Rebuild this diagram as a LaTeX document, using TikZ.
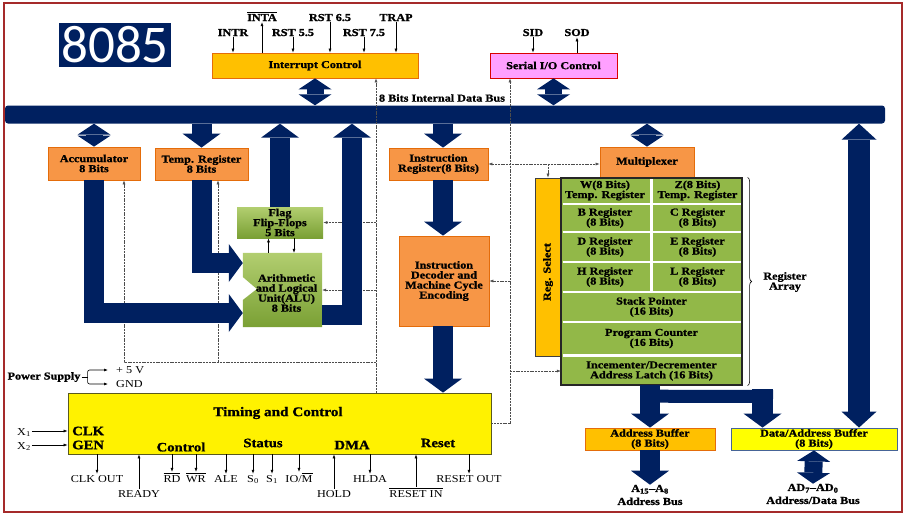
\documentclass[tikz,border=0pt]{standalone}
\usepackage{fontspec}
\setmainfont{Liberation Serif}[FakeStretch=1.15, BoldFeatures={FakeBold=1.2}]
\newfontfamily\chipfont{Carlito}
\usetikzlibrary{arrows.meta, decorations.pathreplacing}

\definecolor{navy}{RGB}{0,32,96}
\definecolor{redframe}{RGB}{165,42,42}
\definecolor{orangefill}{RGB}{247,150,70}
\definecolor{orangeline}{RGB}{228,108,10}
\definecolor{amber}{RGB}{255,192,0}
\definecolor{pinkfill}{RGB}{255,160,255}
\definecolor{tcyellow}{RGB}{255,242,0}
\definecolor{tcline}{RGB}{90,90,30}
\definecolor{bufyellow}{RGB}{255,255,0}
\definecolor{bufline}{RGB}{70,100,150}
\definecolor{cellgreen}{RGB}{146,184,72}
\definecolor{greentop}{RGB}{178,206,112}
\definecolor{greenbot}{RGB}{122,160,52}

\newcommand{\sigbar}[1]{\ensuremath{\overline{\mbox{#1}}}}

\begin{document}
\begin{tikzpicture}[x=1pt, y=-1pt,
	font=\bfseries\fontsize{10.6}{10}\selectfont,
	box/.style={align=center, inner sep=0pt, line width=0.8pt},
	obox/.style={box, draw=orangeline, fill=orangefill},
	abox/.style={box, draw=orangeline, fill=amber},
	cell/.style={align=center, inner sep=0pt},
	pin/.style={inner sep=1pt, anchor=base},
	lopin/.style={pin, font=\mdseries\fontsize{10.6}{11}\selectfont},
	tclbl/.style={inner sep=0pt, font=\bfseries\fontsize{12.8}{13}\selectfont},
	sig/.style={line width=0.6pt, -{Latex[length=4pt,width=3pt]}},
	ctl/.style={draw=black!70, line width=0.5pt, dash pattern=on 2pt off 0.8pt},
	ctlarr/.style={ctl, -{Latex[length=4pt,width=3pt]}},
	busarrow/.style={draw=navy, line width=20pt, line join=miter, -{Triangle[width=38pt,length=14pt,line width=0pt]}},
	busdbl/.style={draw=navy, line width=17pt, {Triangle[width=33pt,length=11pt,line width=0pt]}-{Triangle[width=33pt,length=11pt,line width=0pt]}}]

		\useasboundingbox (0,0) rectangle (906,517);
		\draw[redframe, line width=2pt] (4,3) rectangle (902,512);

		% Chip name
		\node[fill=navy, text=white, inner sep=0pt, minimum width=112pt, minimum height=44pt,
			font=\chipfont\fontsize{53}{53}\selectfont] (chip) at (115,45) {8085};

		% Interrupt and serial blocks with their pins
		\node[abox, minimum width=206pt, minimum height=25pt] (intc) at (315,65.5) {Interrupt Control};
		\node[box, draw=red!85!black, fill=pinkfill, minimum width=127pt, minimum height=25pt] (sio) at (553.5,65.5) {Serial I/O Control};

		\node[pin] (intr) at (233,36) {INTR};
		\node[pin] (inta) at (262,21) {\sigbar{INTA}};
		\node[pin] (rstfive) at (293,36) {RST 5.5};
		\node[pin] (rstsix) at (330,21) {RST 6.5};
		\node[pin] (rstseven) at (364,36) {RST 7.5};
		\node[pin] (trap) at (396,21) {TRAP};
		\node[pin] (sid) at (533,36) {SID};
		\node[pin] (sod) at (577,36) {SOD};

		\draw[sig] (intr.south) -- (intr.south |- intc.north);
		\draw[sig] (inta.south |- intc.north) -- (inta.south);
		\draw[sig] (rstfive.south) -- (rstfive.south |- intc.north);
		\draw[sig] (rstsix.south) -- (rstsix.south |- intc.north);
		\draw[sig] (rstseven.south) -- (rstseven.south |- intc.north);
		\draw[sig] (trap.south) -- (trap.south |- intc.north);
		\draw[sig] (sid.south) -- (sid.south |- sio.north);
		\draw[sig] (sod.south |- sio.north) -- (sod.south);

		% Internal data bus
		\node[fill=navy, rounded corners=3pt, inner sep=0pt, minimum width=880pt, minimum height=18pt] (bus) at (445,114.5) {};
		\node (buslbl) at (442,98) {8 Bits Internal Data Bus};

		% ALU side
		\node[obox, minimum width=92pt, minimum height=33pt] (acc) at (94,163.5) {Accumulator\\8 Bits};
		\node[obox, minimum width=93pt, minimum height=32pt] (tmp) at (201.5,164) {Temp. Register\\8 Bits};
		\node[box, top color=greentop, bottom color=greenbot, minimum width=86pt, minimum height=31pt] (flag) at (280,222.5) {Flag\\Flip-Flops\\5 Bits};

		\node[cell, minimum width=79pt, minimum height=74pt] (alu) at (282.5,290) {};
		\shade[top color=greentop, bottom color=greenbot] (alu.north west) -- (alu.north east) -- (alu.south east) -- (alu.south west)
			-- ([yshift=-10pt]alu.west) -- ([xshift=14pt,yshift=1pt]alu.west) -- ([yshift=13pt]alu.west) -- cycle;
		\node[cell] (alutxt) at (286.5,293) {Arithmetic\\and Logical\\Unit(ALU)\\8 Bits};

		% Instruction path
		\node[obox, minimum width=99pt, minimum height=32pt] (ir) at (438.5,164) {Instruction\\Register(8 Bits)};
		\node[obox, minimum width=90pt, minimum height=90pt] (dec) at (444,281) {Instruction\\Decoder and\\Machine Cycle\\Encoding};

		% Register array
		\node[obox, minimum width=94pt, minimum height=30pt] (mux) at (647,162) {Multiplexer};
		\node[box, draw=black!75, fill=amber, minimum width=26pt, minimum height=178pt] (rsel) at (548,267) {};
		\node[rotate=90] (rseltxt) at ([yshift=-5pt]rsel.center) {Reg. Select};

		\node[box, draw=black!85, line width=1.2pt, fill=cellgreen, minimum width=181pt, minimum height=207pt] (regarr) at (651.5,281.5) {};
		\draw[white, line width=2.5pt] (562.5,204) -- (740.5,204);
		\draw[white, line width=2.5pt] (562.5,232) -- (740.5,232);
		\draw[white, line width=2.5pt] (562.5,262) -- (740.5,262);
		\draw[white, line width=2.5pt] (562.5,292) -- (740.5,292);
		\draw[white, line width=2.5pt] (562.5,322) -- (740.5,322);
		\draw[white, line width=2.5pt] (562.5,355.5) -- (740.5,355.5);
		\draw[white, line width=3pt] (651,179) -- (651,291);

		\node[cell] (wreg) at (605,190.5) {W(8 Bits)\\Temp. Register};
		\node[cell] (zreg) at (697.5,190.5) {Z(8 Bits)\\Temp. Register};
		\node[cell] (breg) at (605,218) {B Register\\(8 Bits)};
		\node[cell] (creg) at (697.5,218) {C Register\\(8 Bits)};
		\node[cell] (dreg) at (605,247) {D Register\\(8 Bits)};
		\node[cell] (ereg) at (697.5,247) {E Register\\(8 Bits)};
		\node[cell] (hreg) at (605,277) {H Register\\(8 Bits)};
		\node[cell] (lreg) at (697.5,277) {L Register\\(8 Bits)};
		\node[cell] (sp) at (651.5,307) {Stack Pointer\\(16 Bits)};
		\node[cell] (pc) at (651.5,338.5) {Program Counter\\(16 Bits)};
		\node[cell, minimum width=181pt, minimum height=28pt] (incdec) at (651.5,371) {Incementer/Decrementer\\Address Latch (16 Bits)};

		\draw[decorate, decoration={brace, amplitude=4pt}, line width=0.6pt] ([xshift=5pt]regarr.north east) -- ([xshift=5pt]regarr.south east);
		\node[cell] (arrlbl) at (785,282) {Register\\Array};

		% Timing and control
		\node[box, draw=tcline, fill=tcyellow, minimum width=423pt, minimum height=61pt] (tc) at (279.5,423.5) {};
		\node[inner sep=0pt, font=\bfseries\fontsize{13.2}{14}\selectfont] (tctitle) at (278,413) {Timing and Control};
		\node[tclbl, anchor=west] (clk) at (72,431) {CLK};
		\node[tclbl, anchor=west] (gen) at (72,445) {GEN};
		\node[tclbl] (ctrl) at (181,447) {Control};
		\node[tclbl] (stat) at (263,443) {Status};
		\node[tclbl] (dma) at (352,445) {DMA};
		\node[tclbl] (rst) at (438,443) {Reset};

		\node[lopin] (xone) at (24,435) {X\textsubscript{1}};
		\node[lopin] (xtwo) at (24,449) {X\textsubscript{2}};
		\draw[sig] (xone.east |- clk.west) -- (tc.west |- clk.west);
		\draw[sig] (xtwo.east |- gen.west) -- (tc.west |- gen.west);

		\node[inner sep=1pt] (pwr) at (44,377) {Power Supply};
		\node[lopin, anchor=west] (plusfive) at (115,370) {+ 5 V};
		\node[lopin, anchor=west] (gnd) at (115,384) {GND};
		\draw[line width=0.6pt] (pwr.east) -- ++(6,0) coordinate (pfork);
		\draw[sig, rounded corners=2pt] (pfork) |- ([xshift=-7pt]plusfive.west);
		\draw[sig, rounded corners=2pt] (pfork) |- ([xshift=-7pt]gnd.west);

		\node[lopin] (clkout) at (97,482) {CLK OUT};
		\node[lopin] (ready) at (139,497) {READY};
		\node[lopin] (rd) at (172,482) {\sigbar{RD}};
		\node[lopin] (wr) at (196,482) {\sigbar{WR}};
		\node[lopin] (ale) at (226,482) {ALE};
		\node[lopin] (szero) at (253,482) {S\textsubscript{0}};
		\node[lopin] (sone) at (272,482) {S\textsubscript{1}};
		\node[lopin] (iom) at (299,482) {IO/\sigbar{M}};
		\node[lopin] (hold) at (334,497) {HOLD};
		\node[lopin] (hlda) at (370,482) {HLDA};
		\node[lopin] (rstin) at (416,497) {\sigbar{RESET IN}};
		\node[lopin] (rstout) at (469,482) {RESET OUT};

		\draw[sig] (tc.south -| clkout.north) -- (clkout.north);
		\draw[sig] (ready.north) -- (tc.south -| ready.north);
		\draw[sig] (tc.south -| rd.north) -- (rd.north);
		\draw[sig] (tc.south -| wr.north) -- (wr.north);
		\draw[sig] (tc.south -| ale.north) -- (ale.north);
		\draw[sig] (tc.south -| szero.north) -- (szero.north);
		\draw[sig] (tc.south -| sone.north) -- (sone.north);
		\draw[sig] (tc.south -| iom.north) -- (iom.north);
		\draw[sig] (hold.north) -- (tc.south -| hold.north);
		\draw[sig] (tc.south -| hlda.north) -- (hlda.north);
		\draw[sig] (rstin.north) -- (tc.south -| rstin.north);
		\draw[sig] (tc.south -| rstout.north) -- (rstout.north);

		% Buffers
		\node[abox, minimum width=130pt, minimum height=22pt] (abuf) at (650,439) {Address Buffer\\(8 Bits)};
		\node[box, draw=bufline, fill=bufyellow, minimum width=166pt, minimum height=22pt] (dbuf) at (814,439) {Data/Address Buffer\\(8 Bits)};
		\node[cell, font=\bfseries\fontsize{10.6}{13}\selectfont] (abus) at (650,495) {A\textsubscript{15}--A\textsubscript{8}\\Address Bus};
		\node[cell, font=\bfseries\fontsize{10.6}{13}\selectfont] (dbus) at (813,494) {AD\textsubscript{7}--AD\textsubscript{0}\\Address/Data Bus};

		% Control lines
		\coordinate (busL) at (376,0);
		\coordinate (busR) at (510,0);
		\coordinate (ctlrow) at (0,362);
		\draw[ctlarr] (tc.north -| busL) -- (intc.south -| busL);
		\draw[ctlarr] (tc.east) -| (sio.south -| busR);
		\draw[ctlarr] (flag.east -| busL) -- (flag.east);
		\draw[ctlarr] (alu.east -| busL) -- (alu.east);
		\draw[ctlarr] (busL |- ctlrow) -| ([xshift=30pt]acc.south);
		\draw[ctlarr] ([xshift=16.5pt]tmp.south |- ctlrow) -- ([xshift=16.5pt]tmp.south);
		\draw[ctl, {Latex[length=4pt,width=3pt]}-{Latex[length=4pt,width=3pt]}] (ir.east) -- (ir.east -| mux.west);
		\draw[ctlarr] (ir.east -| rsel.north) -- (rsel.north);
		\draw[ctlarr] (dec.east -| busR) -- (dec.east);
		\draw[ctlarr] (incdec.west -| busR) -- (incdec.west);
		\draw[sig] ([xshift=-14pt]alu.north) -- ([xshift=-14pt]alu.north |- flag.south);
		\draw[sig] ([xshift=14pt]flag.south) -- ([xshift=14pt]flag.south |- alu.north);

		% Bus arrows
		\coordinate (irx) at (443,0);
		\coordinate (aluup) at (352,0);
		\coordinate (rbus) at (859,0);
		\coordinate (split) at (762.5,389);
		\draw[busdbl] (intc.south) -- (intc.south |- bus.north);
		\draw[busdbl] (sio.south) -- (sio.south |- bus.north);
		\draw[busdbl] (acc.north) -- (acc.north |- bus.south);
		\draw[busarrow] (tmp.north |- bus.south) -- (tmp.north);
		\draw[busarrow] (flag.north) -- (flag.north |- bus.south);
		\draw[busarrow] ([yshift=-25pt]alu.east) -| (bus.south -| aluup);
		\draw[busarrow] (acc.south) |- ([yshift=-23pt]alu.west);
		\draw[busarrow] (tmp.south) |- ([yshift=27pt]alu.west);
		\draw[busarrow] (bus.south -| irx) -- (ir.north -| irx);
		\draw[busarrow] (ir.south -| irx) -- (dec.north -| irx);
		\draw[busarrow] (dec.south -| irx) -- (tc.north -| irx);
		\draw[busdbl] (mux.north) -- (mux.north |- bus.south);
		\draw[busarrow] (incdec.south -| abuf.north) -- (abuf.north);
		\draw[navy, line width=13pt] (incdec.south -| abuf.north) ++(0,11) -- ([xshift=10.5pt,yshift=-7.5pt]split);
		\draw[busarrow, line width=21pt] (split) -- (dbuf.north -| split);
		\draw[busarrow] (abuf.south) -- (abus.north);
		\draw[busdbl, line width=18pt] (dbuf.south) -- (dbus.north);
		\draw[draw=navy, line width=22pt, {Triangle[width=35pt,length=16pt,line width=0pt]}-{Triangle[width=35pt,length=16pt,line width=0pt]}] (bus.south -| rbus) -- (dbuf.north -| rbus);

	\end{tikzpicture}
\end{document}
